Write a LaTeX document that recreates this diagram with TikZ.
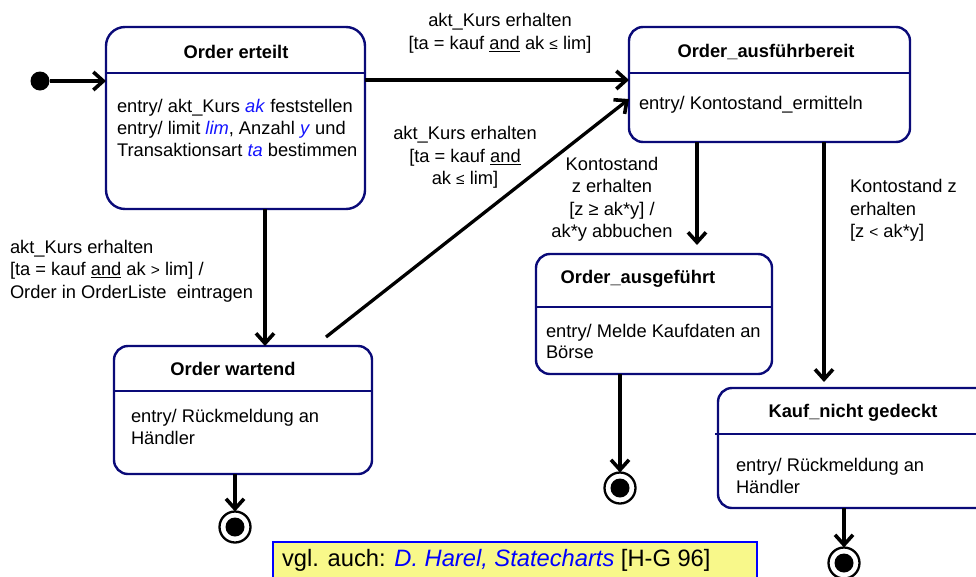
\documentclass[tikz,border=0pt]{standalone}
\usepackage{fontspec}
\setmainfont{Liberation Sans}
\usetikzlibrary{arrows.meta,calc}
\definecolor{navy}{HTML}{0A0A78}
\definecolor{itblue}{HTML}{1414FF}
\definecolor{noteyellow}{HTML}{F8F88A}
\newcommand{\bi}[1]{\textcolor{itblue}{\textit{#1}}}
\newcommand{\smrel}[1]{{\fontsize{15.5}{15.5}\selectfont #1}}
\begin{document}
\begin{tikzpicture}[x=1pt,y=-1pt,
  every node/.style={inner sep=0pt, outer sep=0pt},
  statebox/.style={draw=navy, line width=2.4pt, rounded corners=14pt, anchor=north west, fill=none},
  divline/.style={draw=navy, line width=2.4pt},
  ttl/.style={font=\fontsize{18.3}{22}\selectfont\bfseries},
  body/.style={font=\fontsize{18.3}{22}\selectfont, align=left, anchor=west},
  lbl/.style={font=\fontsize{18.3}{22.5}\selectfont, align=center},
  lbll/.style={font=\fontsize{18.3}{22.5}\selectfont, align=left, anchor=west},
  arr/.style={line width=3.3pt, -{Straight Barb[length=10pt,width=18pt,line width=3.6pt]}},
  finalo/.style={circle, draw=black, line width=2.3pt, minimum size=31pt, fill=white},
]
\useasboundingbox (0,0) rectangle (976,576);

% ---------- states ----------
\node[statebox, rounded corners=19pt, minimum width=259, minimum height=182] (s1) at (106,27) {};
\node[statebox, minimum width=281, minimum height=115] (s2) at (629,27) {};
\node[statebox, minimum width=258, minimum height=128] (s3) at (114,346) {};
\node[statebox, minimum width=236, minimum height=120] (s4) at (536,254) {};
\node[statebox, minimum width=290, minimum height=120] (s5) at (718,388) {};

% dividers
\coordinate (y1) at (0,73);
\coordinate (y3) at (0,391);
\coordinate (y4) at (0,307);
\coordinate (y5) at (0,434);
\coordinate (x5) at (715,0);
\draw[divline] (s1.west |- y1) -- (s1.east |- y1);
\draw[divline] (s2.west |- y1) -- (s2.east |- y1);
\draw[divline] (s3.west |- y3) -- (s3.east |- y3);
\draw[divline] (s4.west |- y4) -- (s4.east |- y4);
\draw[divline] (x5 |- y5) -- (s5.east |- y5);

% titles
\node[ttl] (t1) at (236,52) {Order erteilt};
\node[ttl] (t2) at (766,52) {Order\_ausführbereit};
\node[ttl] (t3) at (233,369) {Order wartend};
\node[ttl] (t4) at (638,279) {Order\_ausgeführt};
\node[ttl] (t5) at (853,413) {Kauf\_nicht gedeckt};

% bodies
\node[body] (b1) at (117,128) {entry/ akt\_Kurs \bi{ak} feststellen\\
entry/ limit \bi{lim}, Anzahl \bi{y} und\\
Transaktionsart \bi{ta} bestimmen};
\node[body] (b2) at (639,105) {entry/ Kontostand\_ermitteln};
\node[body] (b3) at (131,426.5) {entry/ Rückmeldung an\\Händler};
\node[body, font=\fontsize{18.3}{21}\selectfont] (b4) at (546,341.5) {entry/ Melde Kaufdaten an\\Börse};
\node[body] (b5) at (736,476) {entry/ Rückmeldung an\\Händler};

% pseudo states
\node[circle, fill=black, minimum size=19pt] (init) at (40,81) {};
\node[finalo] (f3) at (235,527) {};
\node[finalo] (f4) at (620,488) {};
\node[finalo] (f5) at (844,563) {};
\node[circle, fill=black, minimum size=19pt] (f3i) at (f3) {};
\node[circle, fill=black, minimum size=19pt] (f4i) at (f4) {};
\node[circle, fill=black, minimum size=19pt] (f5i) at (f5) {};

% ---------- transitions ----------
\coordinate (ya) at (0,80);
\coordinate (xa) at (265,0);
\coordinate (xb) at (697,0);
\coordinate (xc) at (824,0);
\coordinate (yd) at (0,99);
\coordinate (d0) at (326,337);

\draw[arr] (init) -- (s1.west |- init);
\draw[arr] (s1.east |- ya) -- (s2.west |- ya);
\draw[arr] (s1.south -| xa) -- (s3.north -| xa);
\draw[arr] (d0) -- (s2.west |- yd);
\draw[arr] (s2.south -| xb) -- ([yshift=9pt]s4.north -| xb);
\draw[arr] (s2.south -| xc) -- ([yshift=6pt]s5.north -| xc);
\draw[arr] (s3.south -| f3) -- (f3.north);
\draw[arr] (s4.south -| f4) -- (f4.north);
\draw[arr] (s5.south -| f5) -- (f5.north);

% labels
\node[lbl] (l1) at (500,33.5) {akt\_Kurs erhalten\\{}[ta = kauf \underline{and} ak \smrel{≤} lim]};
\node[lbl] (l2) at (465,157.5) {akt\_Kurs erhalten\\{}[ta = kauf \underline{and}\\ak \smrel{≤} lim]};
\node[lbll] (l3) at (10,271) {akt\_Kurs erhalten\\{}[ta = kauf \underline{and} ak \smrel{>} lim] /\\Order in OrderListe\ \ eintragen};
\node[lbl] (l4) at (612,199.5) {Kontostand\\z erhalten\\{}[z ≥ ak*y] /\\ak*y abbuchen};
\node[lbll] (l5) at (850,210.5) {Kontostand z\\erhalten\\{}[z \smrel{<} ak*y]};

% note
\node[draw=blue, line width=2pt, fill=noteyellow, anchor=north west, minimum width=484, minimum height=52] (note) at (273,542) {};
\node[anchor=west, font=\fontsize{23.7}{26}\selectfont] (notetext) at (282,560) {vgl. auch: \textcolor{blue}{\textit{D. Harel, Statecharts}} [H-G 96]};
\end{tikzpicture}
\end{document}
